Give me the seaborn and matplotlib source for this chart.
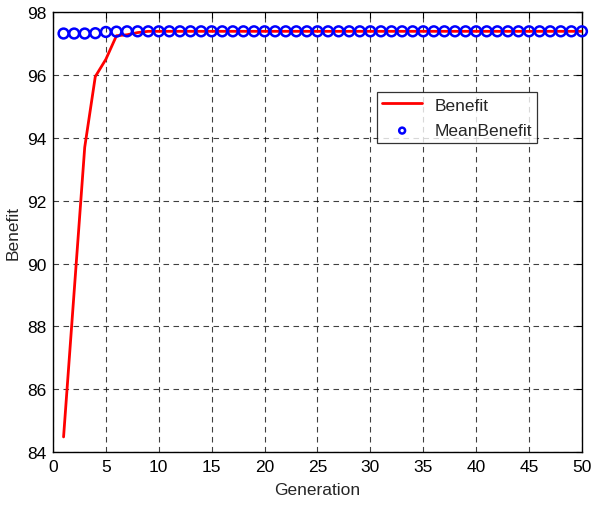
import matplotlib
matplotlib.use("Agg")
import matplotlib.pyplot as plt
import seaborn as sns
import numpy as np
import pandas as pd

generation = list(range(1, 51))
benefit = [84.48, 89.10, 93.70, 95.95, 96.50, 97.25, 97.28, 97.35, 97.39] + [97.39] * 41
mean_benefit = [97.32, 97.32, 97.32, 97.33, 97.37, 97.38] + [97.39] * 44
x_ticks = [0, 5, 10, 15, 20, 25, 30, 35, 40, 45, 50]
y_ticks = [84, 86, 88, 90, 92, 94, 96, 98]

sns.set_theme(style="white")
plt.rcParams['font.family'] = ['Liberation Sans', 'DejaVu Sans']

df = pd.DataFrame({"Generation": generation, "Benefit": benefit, "MeanBenefit": mean_benefit})

fig = plt.figure(figsize=(5.92, 5.06), dpi=100)
ax = fig.add_axes([0.0895, 0.1047, 0.8935, 0.8693])

sns.lineplot(data=df, x="Generation", y="Benefit", ax=ax, color="#ff0000", linewidth=2.0,
             label="Benefit", zorder=3)
sns.scatterplot(data=df, x="Generation", y="MeanBenefit", ax=ax, marker="o",
                facecolor="none", edgecolor="#0000ff", linewidth=1.8, s=50,
                label="MeanBenefit", zorder=4, clip_on=False)

ax.set_xlim(0, 50)
ax.set_ylim(84, 98)
ax.set_xticks(x_ticks)
ax.set_yticks(y_ticks)
ax.grid(True, color="black", linestyle=(0, (5, 4)), linewidth=0.8, alpha=0.75)
ax.tick_params(direction="in", top=True, right=True, length=4, width=0.8,
               labelsize=12.5, colors="black", pad=5)
for s in ax.spines.values():
    s.set_color("black")
    s.set_linewidth(1.0)
ax.set_xlabel("Generation", fontsize=12.5, labelpad=6)
ax.set_ylabel("Benefit", fontsize=12.5, labelpad=4)

leg = ax.legend(loc="upper left", bbox_to_anchor=(0.6125, 0.818), frameon=True,
                fancybox=False, edgecolor="black", fontsize=12.5, handlelength=2.3,
                borderpad=0.3, labelspacing=0.6, handletextpad=0.7, borderaxespad=0,
                markerscale=0.6)
leg.get_frame().set_linewidth(0.9)

fig.savefig("out.png", dpi=100)
